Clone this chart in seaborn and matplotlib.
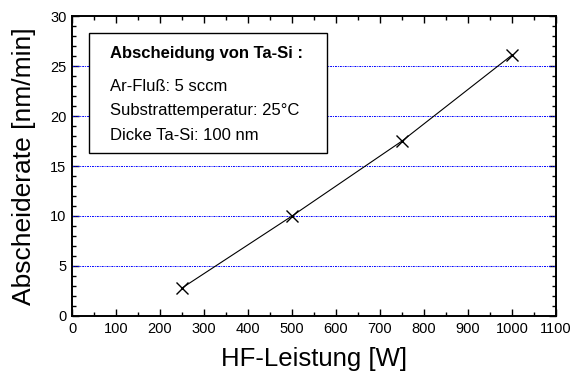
import matplotlib
matplotlib.use("Agg")
import matplotlib.pyplot as plt
from matplotlib.patches import Rectangle
from matplotlib.ticker import MultipleLocator
import seaborn as sns
import pandas as pd

# Sputter deposition rate of Ta-Si versus RF power
leistung = [250, 500, 750, 1000]
rate = [2.8, 10.0, 17.5, 26.1]

info_title = "Abscheidung von Ta-Si :"
info_lines = ["Ar-Fluß: 5 sccm", "Substrattemperatur: 25°C", "Dicke Ta-Si: 100 nm"]

sns.set_style("ticks")
plt.rcParams["font.family"] = ["Liberation Sans", "DejaVu Sans"]
plt.rcParams["xtick.direction"] = "in"
plt.rcParams["ytick.direction"] = "in"
plt.rcParams["text.color"] = "black"
plt.rcParams["axes.labelcolor"] = "black"

df = pd.DataFrame({"HF-Leistung [W]": leistung, "Abscheiderate [nm/min]": rate})

fig = plt.figure(figsize=(5.78, 3.76), dpi=100)
ax = fig.add_axes([0.1246, 0.1596, 0.8374, 0.7978])

sns.lineplot(data=df, x="HF-Leistung [W]", y="Abscheiderate [nm/min]", ax=ax,
             color="black", linewidth=0.8, marker="x", markersize=9,
             markeredgewidth=1.0, markeredgecolor="black", zorder=4)

ax.set_xlim(0, 1100)
ax.set_ylim(0, 30)
ax.xaxis.set_major_locator(MultipleLocator(100))
ax.xaxis.set_minor_locator(MultipleLocator(50))
ax.yaxis.set_major_locator(MultipleLocator(5))
ax.yaxis.set_minor_locator(MultipleLocator(1))
ax.tick_params(which="both", top=True, right=True, labelsize=10.5, pad=4,
               colors="black", labelcolor="black", width=1.0)
ax.tick_params(which="major", length=5)
ax.tick_params(which="minor", length=3)
for s in ax.spines.values():
    s.set_linewidth(1.4)
    s.set_color("black")

# dotted horizontal guides at the major y values
ax.grid(False)
for yv in [5, 10, 15, 20, 25]:
    ax.axhline(yv, color="#0000ff", linestyle=(0, (2, 1, 1, 1)), linewidth=0.7, zorder=1)

ax.set_xlabel("HF-Leistung [W]", fontsize=18.5, labelpad=8, color="black")
ax.set_ylabel("Abscheiderate [nm/min]", fontsize=19, labelpad=10, color="black")

# info box
ax.add_patch(Rectangle((38.6, 16.3), 541.4, 12.0, facecolor="white",
                       edgecolor="black", linewidth=1.0, zorder=3))
ax.text(86, 26.3, info_title, fontsize=12, fontweight="bold", va="center",
        ha="left", zorder=5, color="black")
for i, line in enumerate(info_lines):
    ax.text(86, 23.0 - 2.45 * i, line, fontsize=12, va="center", ha="left",
            zorder=5, color="black")

fig.savefig("out.png", dpi=100)
